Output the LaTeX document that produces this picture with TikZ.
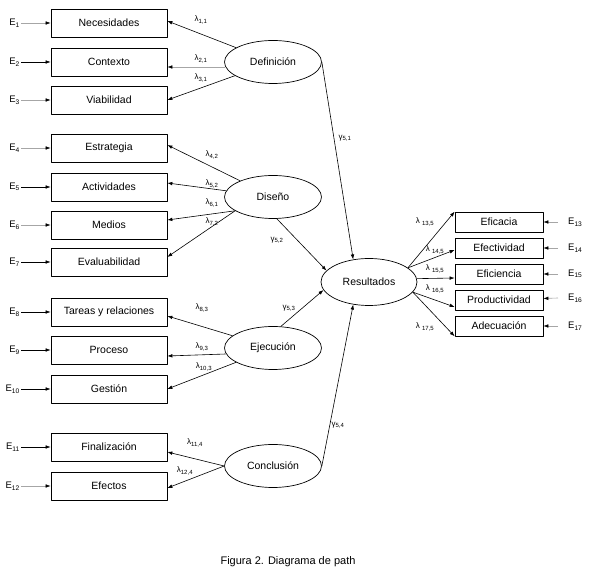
\documentclass[tikz,border=0pt]{standalone}
\usepackage{fontspec}
\setmainfont{Liberation Sans}
\usetikzlibrary{arrows.meta,shapes.geometric}

\begin{document}
\begin{tikzpicture}[x=1pt,y=-1pt,>={Latex[length=5pt,width=3.6pt]},line join=round,
  obs/.style={draw,line width=0.7pt,minimum width=116pt,minimum height=28pt,inner sep=0pt,font=\fontsize{10.5}{12}\selectfont},
  obsr/.style={obs,minimum width=88pt,minimum height=20pt},
  lat/.style={ellipse,draw,line width=0.7pt,minimum width=97pt,minimum height=43pt,inner sep=0pt,font=\fontsize{10.5}{12}\selectfont},
  coef/.style={font=\fontsize{8}{9}\selectfont,inner sep=0pt},
  errl/.style={font=\fontsize{9.5}{10}\selectfont,inner sep=1pt,anchor=east},
  errr/.style={font=\fontsize{9.5}{10}\selectfont,inner ysep=1pt,inner xsep=10pt,anchor=west},
  lnk/.style={->,line width=0.6pt},
  lnkg/.style={line width=0.6pt,draw=gray!70,-{Latex[length=5pt,width=3.6pt,color=black]}}]
  \useasboundingbox (0,0) rectangle (590,577);

  % latent variables
  \node[lat] (def) at (273,62) {Definición};
  \node[lat] (dis) at (273,197) {Diseño};
  \node[lat] (eje) at (273,348) {Ejecución};
  \node[lat] (con) at (273,466) {Conclusión};
  \node[lat,minimum width=96pt,minimum height=47pt] (res) at (369,282) {Resultados};

  % indicators, left
  \node[obs] (nec) at (109,23) {Necesidades};
  \node[obs] (ctx) at (109,62) {Contexto};
  \node[obs] (via) at (109,100) {Viabilidad};
  \node[obs] (est) at (109,148) {Estrategia};
  \node[obs] (act) at (109,187) {Actividades};
  \node[obs] (med) at (109,225) {Medios};
  \node[obs] (eva) at (109,262) {Evaluabilidad};
  \node[obs] (tar) at (109,312) {Tareas y relaciones};
  \node[obs] (pro) at (109,350) {Proceso};
  \node[obs] (ges) at (109,389) {Gestión};
  \node[obs] (fin) at (109,447) {Finalización};
  \node[obs] (efe) at (109,486) {Efectos};

  % indicators, right
  \node[obsr] (efic) at (499,222) {Eficacia};
  \node[obsr] (efec) at (499,248) {Efectividad};
  \node[obsr] (efin) at (499,274) {Eficiencia};
  \node[obsr] (prod) at (499,300) {Productividad};
  \node[obsr] (adec) at (499,326) {Adecuación};

  % error terms
  \node[errl] (e1) at (21,23) {E\textsubscript{1}};
  \node[errl] (e2) at (21,62) {E\textsubscript{2}};
  \node[errl] (e3) at (21,100) {E\textsubscript{3}};
  \node[errl] (e4) at (21,148) {E\textsubscript{4}};
  \node[errl] (e5) at (21,187) {E\textsubscript{5}};
  \node[errl] (e6) at (21,225) {E\textsubscript{6}};
  \node[errl] (e7) at (21,262) {E\textsubscript{7}};
  \node[errl] (e8) at (21,312) {E\textsubscript{8}};
  \node[errl] (e9) at (21,350) {E\textsubscript{9}};
  \node[errl] (e10) at (21,389) {E\textsubscript{10}};
  \node[errl] (e11) at (21,447) {E\textsubscript{11}};
  \node[errl] (e12) at (21,486) {E\textsubscript{12}};
  \node[errr] (e13) at (558,222) {E\textsubscript{13}};
  \node[errr] (e14) at (558,248) {E\textsubscript{14}};
  \node[errr] (e15) at (558,274) {E\textsubscript{15}};
  \node[errr] (e16) at (558,298) {E\textsubscript{16}};
  \node[errr] (e17) at (558,326) {E\textsubscript{17}};

  \draw[lnkg] (e1) -- (nec);
  \draw[lnk] (e2) -- (ctx);
  \draw[lnkg] (e3) -- (via);
  \draw[lnkg] (e4) -- (est);
  \draw[lnk] (e5) -- (act);
  \draw[lnkg] (e6) -- (med);
  \draw[lnk] (e7) -- (eva);
  \draw[lnk] (e8) -- (tar);
  \draw[lnk] (e9) -- (pro);
  \draw[lnk] (e10) -- (ges);
  \draw[lnk] (e11) -- (fin);
  \draw[lnkg] (e12) -- (efe);
  \draw[lnkg] (e13.west) -- (efic);
  \draw[lnkg] (e14.west) -- (efec);
  \draw[lnkg] (e15.west) -- (efin);
  \draw[lnkg] (e16.west) -- (prod);
  \draw[lnkg] (e17.west) -- (adec);

  % loadings
  \draw[lnk] (def) -- ([yshift=2pt]nec.east);
  \draw[lnkg] ([xshift=1pt,yshift=-5pt]def.west) -- ([yshift=-5pt]ctx.east);
  \draw[lnk] (def) -- (via.east);
  \draw[lnk] (dis) -- ([yshift=3pt]est.east);
  \draw[lnk] (dis) -- ([yshift=4pt]act.east);
  \draw[lnk] (dis.200) -- ([yshift=5pt]med.east);
  \draw[lnk] (dis.200) -- ([yshift=5pt]eva.east);
  \draw[lnk] (eje) -- ([yshift=-4pt]tar.east);
  \draw[lnk] ([xshift=1.5pt,yshift=-6pt]eje.west) -- ([yshift=-6pt]pro.east);
  \draw[lnk] (eje) -- (ges.east);
  \draw[lnk] (con.west) -- ([yshift=-5pt]fin.east);
  \draw[lnk] (con.west) -- ([yshift=-2pt]efe.east);
  \draw[lnk] (res.20) -- (efic.north west);
  \draw[lnk] (res.20) -- ([yshift=-2pt]efec.west);
  \draw[lnk] (res.4) -- ([yshift=-4pt]efin.west);
  \draw[lnk] (res.-13) -- ([yshift=-7pt]prod.west);
  \draw[lnk] (res.-13) -- (adec.south west);

  % structural paths
  \draw[lnk] (def.east) -- (res.125);
  \draw[lnk] (dis.-80) -- (res.165);
  \draw[lnk] (eje.70) -- (res.190);
  \draw[lnk] (con.east) -- (res.235);

  % coefficients
  \node[coef] (l11) at (201,20) {λ\textsubscript{1,1}};
  \node[coef] (l21) at (201,59) {λ\textsubscript{2,1}};
  \node[coef] (l31) at (201,78) {λ\textsubscript{3,1}};
  \node[coef] (l42) at (212,155) {λ\textsubscript{4,2}};
  \node[coef] (l52) at (212,184) {λ\textsubscript{5,2}};
  \node[coef] (l61) at (212,203) {λ\textsubscript{6,1}};
  \node[coef] (l72) at (212,222) {λ\textsubscript{7,2}};
  \node[coef] (l83) at (202,308) {λ\textsubscript{8,3}};
  \node[coef] (l93) at (202,347) {λ\textsubscript{9,3}};
  \node[coef] (l103) at (204,367) {λ\textsubscript{10,3}};
  \node[coef] (l114) at (195,443) {λ\textsubscript{11,4}};
  \node[coef] (l124) at (185,471) {λ\textsubscript{12,4}};
  \node[coef] (l135) at (425,222) {λ \textsubscript{13,5}};
  \node[coef] (l145) at (435,250) {λ \textsubscript{14,5}};
  \node[coef] (l155) at (435,269) {λ \textsubscript{15,5}};
  \node[coef] (l165) at (435,289) {λ \textsubscript{16,5}};
  \node[coef] (l175) at (425,327) {λ \textsubscript{17,5}};
  \node[coef] (g51) at (345,138) {γ\textsubscript{5,1}};
  \node[coef] (g52) at (277,240) {γ\textsubscript{5,2}};
  \node[coef] (g53) at (289,308) {γ\textsubscript{5,3}};
  \node[coef] (g54) at (338,425) {γ\textsubscript{5,4}};

  \node[font=\fontsize{11}{13}\selectfont] (cap) at (288,562) {Figura 2. Diagrama de path};
\end{tikzpicture}
\end{document}
